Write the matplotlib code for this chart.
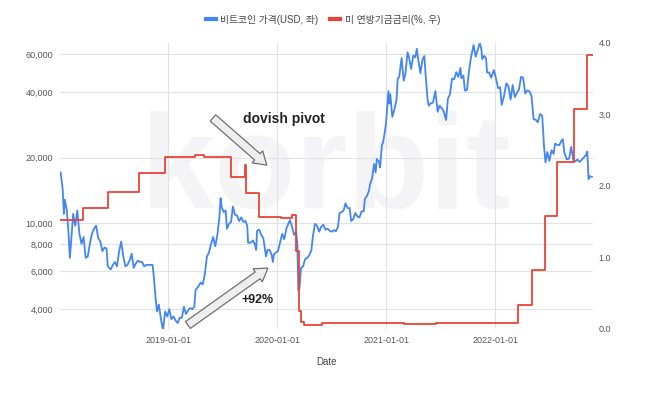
import matplotlib

matplotlib.use("Agg")
import matplotlib.pyplot as plt
import pandas as pd
from matplotlib.lines import Line2D
from matplotlib.ticker import NullLocator

plt.rcParams["font.family"] = ["Liberation Sans", "Noto Sans CJK KR", "DejaVu Sans"]

# Bitcoin price, USD (left, log axis), roughly weekly
btc_dates = [
    "2018-01-06", "2018-01-13", "2018-01-17", "2018-01-20", "2018-01-27", "2018-02-02", "2018-02-06",
    "2018-02-10", "2018-02-17", "2018-02-24", "2018-03-03", "2018-03-10", "2018-03-17", "2018-03-24",
    "2018-03-31", "2018-04-07", "2018-04-14", "2018-04-21", "2018-04-28", "2018-05-05", "2018-05-12",
    "2018-05-19", "2018-05-26", "2018-06-02", "2018-06-09", "2018-06-13", "2018-06-23", "2018-06-30",
    "2018-07-07", "2018-07-14", "2018-07-21", "2018-07-28", "2018-08-04", "2018-08-11", "2018-08-18",
    "2018-08-25", "2018-09-01", "2018-09-08", "2018-09-15", "2018-09-22", "2018-09-29", "2018-10-06",
    "2018-10-13", "2018-10-20", "2018-10-27", "2018-11-03", "2018-11-10", "2018-11-14", "2018-11-20",
    "2018-11-25", "2018-12-01", "2018-12-08", "2018-12-15", "2018-12-22", "2018-12-29",
    "2019-01-05", "2019-01-12", "2019-01-19", "2019-01-26", "2019-02-02", "2019-02-09", "2019-02-16",
    "2019-02-23", "2019-03-02", "2019-03-09", "2019-03-16", "2019-03-23", "2019-03-30", "2019-04-03",
    "2019-04-13", "2019-04-20", "2019-04-27", "2019-05-04", "2019-05-11", "2019-05-18", "2019-05-25",
    "2019-06-01", "2019-06-08", "2019-06-15", "2019-06-22", "2019-06-26", "2019-06-29", "2019-07-06",
    "2019-07-13", "2019-07-17", "2019-07-24", "2019-07-31", "2019-08-06", "2019-08-13", "2019-08-20",
    "2019-08-27", "2019-09-03", "2019-09-10", "2019-09-17", "2019-09-23", "2019-09-26", "2019-10-05",
    "2019-10-12", "2019-10-19", "2019-10-23", "2019-10-26", "2019-11-02", "2019-11-09", "2019-11-16",
    "2019-11-25", "2019-11-30", "2019-12-07", "2019-12-14", "2019-12-18", "2019-12-21", "2019-12-28",
    "2020-01-04", "2020-01-11", "2020-01-18", "2020-01-25", "2020-02-01", "2020-02-08", "2020-02-13",
    "2020-02-20", "2020-02-27", "2020-03-05", "2020-03-09", "2020-03-12", "2020-03-16", "2020-03-21",
    "2020-03-28", "2020-04-04", "2020-04-11", "2020-04-18", "2020-04-25", "2020-04-30", "2020-05-07",
    "2020-05-14", "2020-05-21", "2020-05-28", "2020-06-04", "2020-06-11", "2020-06-18", "2020-06-25",
    "2020-07-02", "2020-07-09", "2020-07-16", "2020-07-23", "2020-07-28", "2020-08-04", "2020-08-11",
    "2020-08-17", "2020-08-24", "2020-08-31", "2020-09-05", "2020-09-12", "2020-09-19", "2020-09-26",
    "2020-10-03", "2020-10-10", "2020-10-17", "2020-10-21", "2020-10-28", "2020-11-04", "2020-11-07",
    "2020-11-14", "2020-11-21", "2020-11-26", "2020-11-30", "2020-12-07", "2020-12-11", "2020-12-17",
    "2020-12-21", "2020-12-27", "2020-12-31",
    "2021-01-03", "2021-01-08", "2021-01-11", "2021-01-14", "2021-01-21", "2021-01-28", "2021-02-04",
    "2021-02-08", "2021-02-13", "2021-02-21", "2021-02-28", "2021-03-06", "2021-03-13", "2021-03-18",
    "2021-03-25", "2021-04-01", "2021-04-08", "2021-04-13", "2021-04-18", "2021-04-25", "2021-05-02",
    "2021-05-08", "2021-05-12", "2021-05-19", "2021-05-23", "2021-05-30", "2021-06-06", "2021-06-14",
    "2021-06-22", "2021-06-28", "2021-07-05", "2021-07-12", "2021-07-20", "2021-07-26", "2021-08-02",
    "2021-08-09", "2021-08-16", "2021-08-23", "2021-08-30", "2021-09-06", "2021-09-09", "2021-09-16",
    "2021-09-21", "2021-09-28", "2021-10-04", "2021-10-11", "2021-10-20", "2021-10-27", "2021-11-03",
    "2021-11-10", "2021-11-15", "2021-11-18", "2021-11-25", "2021-12-01", "2021-12-04", "2021-12-11",
    "2021-12-18", "2021-12-27",
    "2022-01-03", "2022-01-10", "2022-01-17", "2022-01-22", "2022-01-29", "2022-02-07", "2022-02-14",
    "2022-02-21", "2022-02-28", "2022-03-07", "2022-03-14", "2022-03-21", "2022-03-28", "2022-04-04",
    "2022-04-11", "2022-04-18", "2022-04-25", "2022-05-02", "2022-05-09", "2022-05-16", "2022-05-23",
    "2022-05-31", "2022-06-07", "2022-06-13", "2022-06-18", "2022-06-24", "2022-07-01", "2022-07-08",
    "2022-07-15", "2022-07-20", "2022-07-27", "2022-08-03", "2022-08-10", "2022-08-15", "2022-08-20",
    "2022-08-28", "2022-09-05", "2022-09-12", "2022-09-19", "2022-09-26", "2022-10-03", "2022-10-10",
    "2022-10-17", "2022-10-25", "2022-10-31", "2022-11-05", "2022-11-09", "2022-11-13", "2022-11-20",
]
btc_usd = [
    17100, 14300, 11000, 12800, 11400, 8800, 6900,
    8100, 11000, 9700, 11400, 8900, 8000, 8600,
    6900, 7000, 8000, 8900, 9400, 9700, 8500,
    8200, 7400, 7700, 7600, 6300, 6100, 6400,
    6600, 6300, 7400, 8200, 7000, 6300, 6400,
    6700, 7200, 6200, 6500, 6700, 6600, 6600,
    6300, 6400, 6400, 6400, 6400, 5700, 4500,
    3900, 4200, 3600, 3200, 3900, 3700,
    4000, 3600, 3700, 3550, 3450, 3650, 3650,
    4100, 3800, 3950, 4050, 4000, 4100, 4900,
    5100, 5300, 5200, 5800, 7000, 7300, 8000,
    8600, 7800, 8800, 10700, 13000, 11900, 11200,
    11400, 9400, 9900, 10100, 11900, 10900, 10800,
    10200, 10600, 10100, 10200, 9700, 8100, 8100,
    8300, 7950, 7500, 9200, 9300, 8800, 8500,
    7000, 7500, 7500, 7100, 6600, 7150, 7300,
    7400, 8100, 8900, 8400, 9400, 9900, 10300,
    9600, 8800, 9100, 7900, 4900, 5000, 6200,
    6300, 6800, 6900, 7100, 7500, 8700, 9900,
    9700, 9100, 9600, 9800, 9300, 9400, 9200,
    9100, 9250, 9150, 9600, 11100, 11200, 11400,
    12300, 11700, 11700, 10200, 10400, 11100, 10700,
    10600, 11300, 11300, 12900, 13300, 14100, 15000,
    16000, 18700, 17100, 19700, 19200, 18000, 22800,
    23500, 26300, 29000,
    32800, 40500, 35500, 39200, 30800, 33400, 36900,
    46200, 47200, 57500, 45200, 48900, 61200, 57800,
    51300, 59000, 58000, 63500, 56200, 49000, 56600,
    58800, 49200, 37000, 34700, 35600, 35800, 40500,
    32500, 34700, 33800, 32700, 29800, 37300, 39200,
    46300, 45900, 49500, 47100, 51800, 46400, 47800,
    40700, 41000, 49200, 57500, 66000, 58400, 62900,
    67500, 63500, 56900, 58900, 57200, 49400, 49300,
    46700, 50700,
    46400, 41800, 42200, 35000, 37900, 44000, 42500,
    37000, 43200, 38000, 39700, 41200, 47100, 46600,
    39500, 40800, 40400, 38500, 30100, 29900, 29100,
    31800, 31100, 22500, 19000, 21200, 19300, 21600,
    20800, 23200, 22900, 22800, 23900, 24300, 21100,
    19600, 19800, 22400, 19500, 19200, 19600, 19100,
    19500, 20100, 20500, 21300, 15900, 16400, 16300,
]

# Effective federal funds rate, % (right axis) - change points
ffr_dates = [
    "2018-01-04", "2018-03-22", "2018-06-14", "2018-09-27", "2018-12-20", "2019-04-01", "2019-05-01",
    "2019-08-01", "2019-09-16", "2019-09-17", "2019-09-19", "2019-10-31", "2020-01-15", "2020-02-20",
    "2020-03-04", "2020-03-16", "2020-03-20", "2020-04-01", "2020-06-01", "2020-08-01", "2021-01-01",
    "2021-03-01", "2021-06-17", "2022-03-17", "2022-05-05", "2022-06-16", "2022-07-28", "2022-09-22",
    "2022-11-03", "2022-11-24",
]
ffr_rate = [
    1.52, 1.69, 1.92, 2.18, 2.40, 2.44, 2.40,
    2.13, 2.25, 2.30, 1.90, 1.57, 1.55, 1.59,
    1.09, 0.25, 0.10, 0.05, 0.08, 0.09, 0.09,
    0.07, 0.09, 0.33, 0.83, 1.58, 2.33, 3.08,
    3.83, 3.83,
]

x_ticks = ["2019-01-01", "2020-01-01", "2021-01-01", "2022-01-01"]
left_ticks = [4000, 6000, 8000, 10000, 20000, 40000, 60000]
left_labels = ["4,000", "6,000", "8,000", "10,000", "20,000", "40,000", "60,000"]
right_ticks = [0, 1, 2, 3, 4]
right_labels = ["0.0", "1.0", "2.0", "3.0", "4.0"]

BLUE = "#4285f4"
RED = "#ea4335"
TICK = "#555555"

fig = plt.figure(figsize=(6.46, 3.96), dpi=100)
ax = fig.add_axes([60 / 646, 1 - 329 / 396, 533 / 646, 286 / 396])
ax2 = ax.twinx()

# faint watermark behind everything
ax.text(0.505, 0.475, "korbit", transform=fig.transFigure, ha="center", va="baseline",
        fontsize=96, fontweight="bold", color="#f4f4f6", zorder=0)

ax.plot(pd.to_datetime(btc_dates), btc_usd, color=BLUE, lw=1.3, zorder=2)
ax2.plot(pd.to_datetime(ffr_dates), ffr_rate, color=RED, lw=1.3, drawstyle="steps-post")

ax.set_yscale("log")
ax.set_ylim(3240, 67500)
ax.set_yticks(left_ticks)
ax.set_yticklabels(left_labels)
ax.yaxis.set_minor_locator(NullLocator())
ax.set_xlim(pd.Timestamp("2018-01-04"), pd.Timestamp("2022-11-24"))
ax.set_xticks(pd.to_datetime(x_ticks))
ax.set_xticklabels(x_ticks)
ax.grid(True, color="#e2e2e2", lw=0.8)
ax.set_axisbelow(True)

ax2.set_ylim(0, 4)
ax2.set_yticks(right_ticks)
ax2.set_yticklabels(right_labels)

for a in (ax, ax2):
    for s in a.spines.values():
        s.set_visible(False)
    a.tick_params(length=0, labelsize=6.5, colors=TICK)
ax.tick_params(axis="y", pad=5)
ax.tick_params(axis="x", pad=5)
ax2.tick_params(axis="y", pad=4)

ax.set_xlabel("Date", fontsize=7, color="#444444", labelpad=9)

arrow = dict(arrowstyle="simple,head_width=1.15,head_length=0.9,tail_width=0.6",
             mutation_scale=10, fc="#eeeeee", ec="#707070", lw=0.9, shrinkA=0, shrinkB=0)
ax2.annotate("", xy=(0.388, 0.573), xytext=(0.287, 0.738), xycoords="axes fraction",
             arrowprops=arrow)
ax2.annotate("", xy=(0.390, 0.213), xytext=(0.240, 0.014), xycoords="axes fraction",
             arrowprops=arrow)
ax2.text(0.420, 0.734, "dovish pivot", transform=ax2.transAxes, ha="center", va="center",
         fontsize=10, fontweight="bold", color="#222222")
ax2.text(0.370, 0.103, "+92%", transform=ax2.transAxes, ha="center", va="center",
         fontsize=9, fontweight="bold", color="#222222")

handles = [Line2D([], [], color=BLUE, lw=3), Line2D([], [], color=RED, lw=3)]
fig.legend(handles, ["비트코인 가격(USD, 좌)", "미 연방기금금리(%, 우)"], loc="upper center",
           bbox_to_anchor=(0.5, 0.985), ncol=2, frameon=False, fontsize=7, handlelength=1.0,
           handletextpad=0.5, columnspacing=1.2, labelcolor="#444444")

fig.savefig("out.png", dpi=100)
